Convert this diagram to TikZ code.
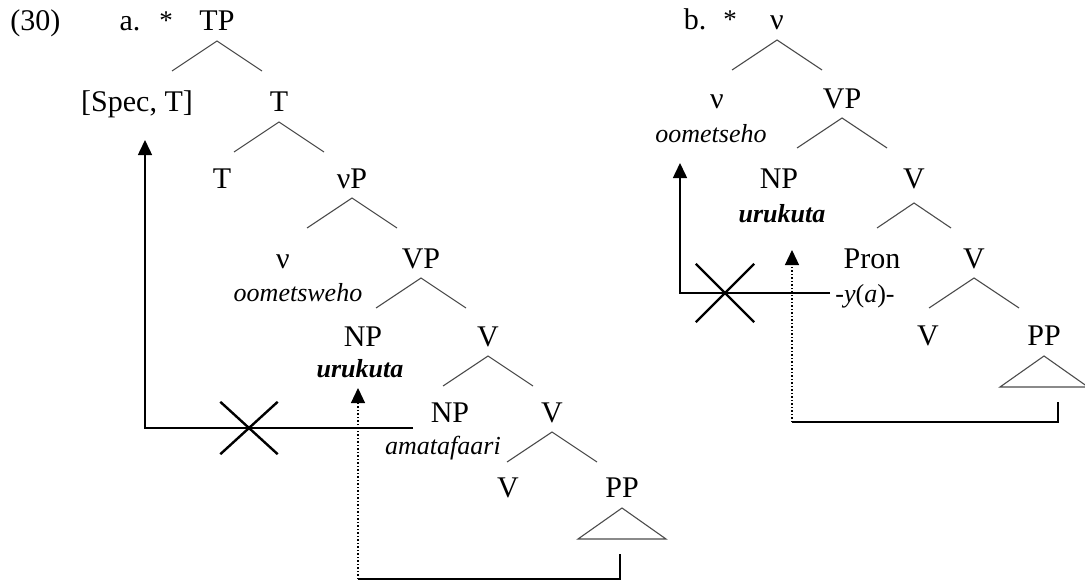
\documentclass[tikz,border=0pt]{standalone}
\usepackage{fontspec}
\setmainfont{Liberation Serif}
\usetikzlibrary{arrows.meta,shapes.misc}

\tikzset{
  lab/.style={anchor=base, inner sep=0pt, font=\fontsize{15}{18}\selectfont},
  gloss/.style={anchor=base, inner sep=0pt, font=\fontsize{13}{15}\selectfont\itshape},
  mark star/.style={anchor=base, inner sep=0pt, font=\fontsize{13.5}{16}\selectfont},
  branch/.style={draw=black!70, line width=0.55pt},
  move/.style={line width=0.75pt, -{Triangle[length=7.5pt,width=7pt]}},
  block/.style={cross out, draw, line width=1.2pt, inner sep=0pt},
}

\begin{document}
\begin{tikzpicture}[x=0.5pt,y=-0.5pt]
    \useasboundingbox (0,0) rectangle (1085,583);

    \node[lab, anchor=base west] (ex) at (10,31) {(30)};
    \node[lab] (tagA) at (130,31) {a.};
    \node[mark star] (starA) at (166,30) {*};
    \node[lab] (tpA) at (217,31) {TP};
    \node[lab] (specA) at (137,112) {[Spec, T]};
    \node[lab] (tbarA) at (279,112) {T};
    \node[lab] (tA) at (222,188) {T};
    \node[lab] (nuPA) at (352,188) {νP};
    \node[lab] (nuA) at (283,268) {ν};
    \node[lab] (vpA) at (421,268) {VP};
    \node[gloss] (oomA) at (298,301) {oometsweho};
    \node[lab] (npA) at (363,346) {NP};
    \node[lab] (vbarA) at (488,346) {V};
    \node[gloss, font=\fontsize{13}{15}\selectfont\bfseries\itshape] (uruA) at (360,377) {urukuta};
    \node[lab] (npA2) at (450,422) {NP};
    \node[lab] (vbarA2) at (552,422) {V};
    \node[gloss] (amaA) at (443,454) {amatafaari};
    \node[lab] (vA) at (508,497) {V};
    \node[lab] (ppA) at (622,497) {PP};

    \node[lab] (tagB) at (695,30) {b.};
    \node[mark star] (starB) at (730,29) {*};
    \node[lab] (nuPB) at (777,30) {ν};
    \node[lab] (nuB) at (717,108) {ν};
    \node[lab] (vpB) at (842,108) {VP};
    \node[gloss] (oomB) at (711,142) {oometseho};
    \node[lab] (npB) at (779,188) {NP};
    \node[lab] (vbarB) at (914,188) {V};
    \node[gloss, font=\fontsize{13}{15}\selectfont\bfseries\itshape] (uruB) at (782,222) {urukuta};
    \node[lab] (pronB) at (872,268) {Pron};
    \node[lab] (vbarB2) at (974,268) {V};
    \node[gloss, anchor=base west, font=\fontsize{13}{15}\selectfont] (ymodB) at (835,302) {-\textit{y}(\textit{a})-};
    \node[lab] (vB) at (928,345) {V};
    \node[lab] (ppB) at (1044,345) {PP};

    \foreach \n in {tpA,tbarA,nuPA,vpA,vbarA,vbarA2,nuPB,vpB,vbarB2}
    \draw[branch] ([yshift=-5pt]\n.base) +(-45,30) -- +(0,0) -- +(45,30);
    \draw[branch] ([yshift=-7.5pt]vbarB.base) +(-37,25) -- +(0,0) -- +(37,25);

    \foreach \n in {ppA,ppB}
    \draw[branch] ([yshift=-5.5pt]\n.base) -- +(-44,31) -- +(44,31) -- cycle;

    \coordinate (fromA) at (413,428);
    \draw[move] (fromA) -| ([xshift=4pt,yshift=-14pt]specA.base);
    \node[block, minimum width=27.5pt, minimum height=25pt] (xA) at (249,428) {};

    \coordinate (retA) at (620,554);
    \coordinate (turnA) at (358,579);
    \draw[line width=0.75pt] (retA) |- (turnA);
    \draw[move, densely dotted, line width=0.6pt, shorten >=5.5pt] (turnA) -- (turnA |- uruA.base);

    \coordinate (fromB) at (830,293);
    \draw[move] (fromB) -| ([xshift=-15.5pt,yshift=-10.5pt]oomB.base);
    \node[block, minimum width=28pt, minimum height=28pt] (xB) at (725,293) {};

    \coordinate (retB) at (1058,402);
    \coordinate (turnB) at (792,422);
    \draw[line width=0.75pt] (retB) |- (turnB);
    \draw[move, densely dotted, line width=0.6pt, shorten >=14pt] (turnB) -- (turnB |- uruB.base);

\end{tikzpicture}
\end{document}
